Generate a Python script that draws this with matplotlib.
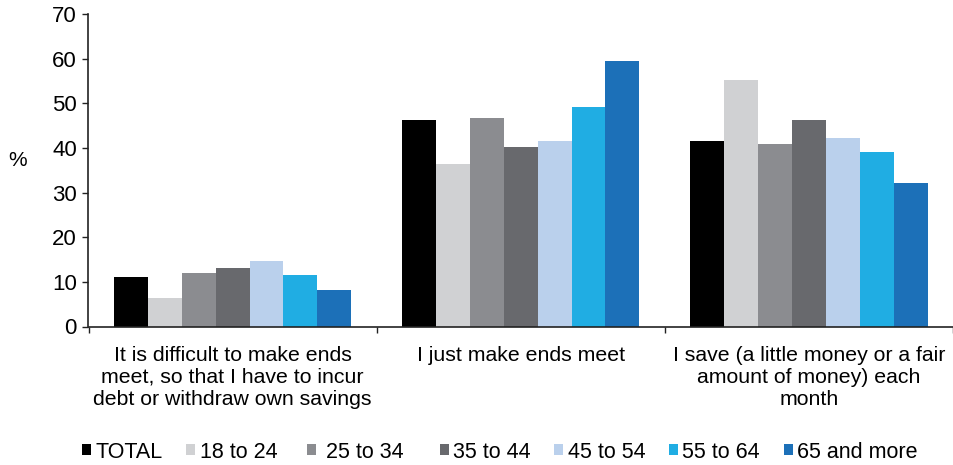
import matplotlib
matplotlib.use("Agg")
import matplotlib.pyplot as plt
import numpy as np

plt.rcParams['font.family'] = ['Liberation Sans', 'DejaVu Sans']

categories = ["It is difficult to make ends\nmeet, so that I have to incur\ndebt or withdraw own savings",
              "I just make ends meet",
              "I save (a little money or a fair\namount of money) each\nmonth"]
series_names = ["TOTAL", "18 to 24 ", " 25 to 34  ", "35 to 44", "45 to 54", "55 to 64", "65 and more"]
total = [11.1, 46.3, 41.5]
age_18_24 = [6.3, 36.4, 55.3]
age_25_34 = [11.9, 46.7, 40.8]
age_35_44 = [13.2, 40.2, 46.3]
age_45_54 = [14.6, 41.5, 42.2]
age_55_64 = [11.5, 49.1, 39.1]
age_65_plus = [8.1, 59.4, 32.2]
series_values = [total, age_18_24, age_25_34, age_35_44, age_45_54, age_55_64, age_65_plus]
colors = ["#000000", "#d0d1d3", "#8b8c90", "#68696d", "#bad0ec", "#20ade3", "#1c70b8"]
y_ticks = [0, 10, 20, 30, 40, 50, 60, 70]

fig = plt.figure(figsize=(9.54, 4.65), dpi=100)
ax = fig.add_axes([88.5/954, 1-326.5/465, (953-88.5)/954, (326.5-14)/465])

x = np.arange(len(categories))
w = 0.1176
n = len(series_values)
for i, (name, vals, c) in enumerate(zip(series_names, series_values, colors)):
    ax.bar(x + (i - (n-1)/2) * w, vals, width=w, color=c, label=name, linewidth=0)

ax.set_xlim(-0.5, 2.5)
ax.set_ylim(0, 70)
ax.set_yticks(y_ticks)
ax.tick_params(axis='y', direction='out', length=4.3, width=1, labelsize=16, pad=4, color='#222222')
ax.set_xticks(x)
ax.set_xticklabels(categories, fontsize=15.3, linespacing=1.2, va='top')
ax.tick_params(axis='x', which='major', length=0, pad=14)
ax.set_xticks([-0.5, 0.5, 1.5, 2.5], minor=True)
ax.tick_params(axis='x', which='minor', direction='out', length=4.3, width=1, color='#222222')

for s in ['top', 'right']:
    ax.spines[s].set_visible(False)
for s in ['left', 'bottom']:
    ax.spines[s].set_color('#222222')
    ax.spines[s].set_linewidth(1.2)

fig.text(8/954, 1-160/465, "%", fontsize=15, va='center', ha='left')

leg = fig.legend(loc='center left', bbox_to_anchor=(82/954, 1-452/465), ncol=7, frameon=False,
                 fontsize=15.5, handlelength=0.42, handleheight=0.42, handletextpad=0.2,
                 columnspacing=1.1, borderpad=0, borderaxespad=0)

fig.savefig("out.png", dpi=100)
